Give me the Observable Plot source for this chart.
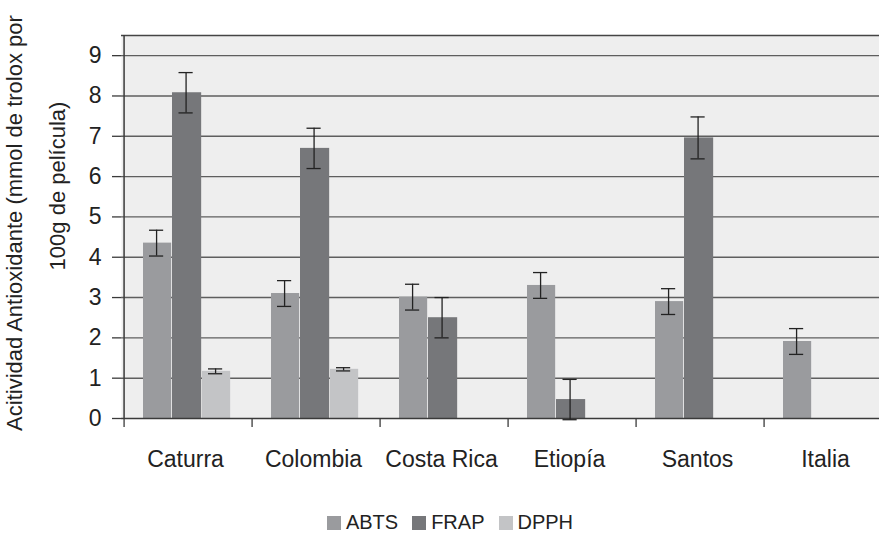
<!DOCTYPE html>
<html>
<head>
<meta charset="utf-8">
<script src="https://cdn.jsdelivr.net/npm/d3@7"></script>
<script src="https://cdn.jsdelivr.net/npm/@observablehq/plot@0.6"></script>
<style>
  html, body { margin: 0; padding: 0; background: #fff; overflow: hidden; }
  #chart { width: 879px; height: 534px; overflow: hidden; position: relative; }
  #chart svg { max-width: none !important; }
  #legend { position: absolute; left: 0; top: 511px; width: 900px; display: flex; justify-content: center; gap: 14px;
    font-family: "Liberation Sans", Arial, sans-serif; font-size: 20px; color: #222; }
  .item { display: flex; align-items: center; gap: 5px; }
  .sw { width: 14px; height: 14px; display: inline-block; }
</style>
</head>
<body>
<div id="chart"></div>
<script>
const countries = ["Caturra", "Colombia", "Costa Rica", "Etiopía", "Santos", "Italia"];
const seriesNames = ["ABTS", "FRAP", "DPPH"];
const seriesColors = ["#9a9b9e", "#76777a", "#c3c4c6"];
const abts = [4.35, 3.10, 3.01, 3.30, 2.90, 1.91];
const abtsErr = [0.32, 0.32, 0.32, 0.32, 0.32, 0.32];
const frap = [8.08, 6.70, 2.50, 0.47, 6.96, null];
const frapErr = [0.50, 0.50, 0.50, 0.50, 0.52, null];
const dpph = [1.17, 1.22, null, null, null, null];
const dpphErr = [0.06, 0.04, null, null, null, null];
const yTicks = [0, 1, 2, 3, 4, 5, 6, 7, 8, 9];
const yTitle1 = "Acitividad Antioxidante (mmol de trolox por";
const yTitle2 = "100g de película)";

const values = [abts, frap, dpph];
const errs = [abtsErr, frapErr, dpphErr];
const rows = [];
seriesNames.forEach((s, si) => countries.forEach((c, ci) => {
  const v = values[si][ci];
  if (v != null) rows.push({country: c, series: s, si, value: v, lo: v - errs[si][ci], hi: v + errs[si][ci]});
}));

const W = 894, mL = 121, mR = 0, mT = 35, mB = 72, H = 490;
const step = (W - mL - mR) / countries.length;
// bar slot positions within each band (px from band left)
const slots = [[19, 48], [48, 78], [78, 107]];
const capW = 15;
const FONT = "Liberation Sans, Arial, sans-serif";

const marks = [
  Plot.frame({fill: "#eeeeee", stroke: null}),
  Plot.ruleY(yTicks.slice(1), {stroke: "#5e5e5e", strokeWidth: 1.4}),
  Plot.ruleY([9.5], {stroke: "#444", strokeWidth: 1.4}),
];
seriesNames.forEach((s, si) => {
  const data = rows.filter(d => d.si === si);
  const [a, b] = slots[si];
  marks.push(Plot.barY(data, {x: "country", y: "value", fill: seriesColors[si],
    insetLeft: a, insetRight: step - b}));
});
marks.push(Plot.ruleY([0], {stroke: "#3a3a3a", strokeWidth: 1.5}));
seriesNames.forEach((s, si) => {
  const data = rows.filter(d => d.si === si);
  const [a, b] = slots[si];
  const cx = (a + b) / 2 - 1;
  marks.push(Plot.ruleX(data, {x: "country", y1: "lo", y2: "hi", dx: cx - step / 2, stroke: "#222", strokeWidth: 1.3}));
  for (const k of ["lo", "hi"]) {
    marks.push(Plot.tickY(data, {x: "country", y: k, stroke: "#222", strokeWidth: 1.3,
      insetLeft: cx - capW / 2, insetRight: step - cx - capW / 2}));
  }
});
// left axis line
marks.push(Plot.ruleX([countries[0]], {dx: -step / 2, stroke: "#3a3a3a", strokeWidth: 1.5}));
marks.push(Plot.axisY({ticks: yTicks, tickSize: 9, tickPadding: 11, fontSize: 23,
  fontFamily: FONT, stroke: "#3a3a3a", strokeWidth: 1.3, fill: "#222", label: null}));
marks.push(Plot.axisX({tickSize: 9, text: null, dx: -step / 2, stroke: "#3a3a3a", strokeWidth: 1.3, label: null}));
marks.push(Plot.axisX({tickSize: 0, tickPadding: 32, fontSize: 23, fill: "#222", dx: -3,
  fontFamily: FONT, label: null}));
marks.push(Plot.text([yTitle1], {text: d => d, frameAnchor: "left", textAnchor: "middle", rotate: -90, dx: -107, dy: -4,
  fontSize: 22, fontFamily: FONT, fill: "#222"}));
marks.push(Plot.text([yTitle2], {text: d => d, frameAnchor: "left", textAnchor: "middle", rotate: -90, dx: -64, dy: -41,
  fontSize: 22, fontFamily: FONT, fill: "#222"}));

const chart = Plot.plot({
  width: W, height: H,
  marginLeft: mL, marginRight: mR, marginTop: mT, marginBottom: mB,
  x: {domain: countries, padding: 0, axis: null},
  y: {domain: [0, 9.5], axis: null},
  style: {background: "transparent", overflow: "visible", maxWidth: "none"},
  marks
});
chart.style.maxWidth = "none";
const host = document.getElementById("chart");
host.appendChild(chart);

const legend = document.createElement("div");
legend.id = "legend";
seriesNames.forEach((s, i) => {
  const it = document.createElement("span");
  it.className = "item";
  const sw = document.createElement("span");
  sw.className = "sw";
  sw.style.background = seriesColors[i];
  const t = document.createElement("span");
  t.textContent = s;
  it.appendChild(sw); it.appendChild(t);
  legend.appendChild(it);
});
host.appendChild(legend);
</script>
</body>
</html>
